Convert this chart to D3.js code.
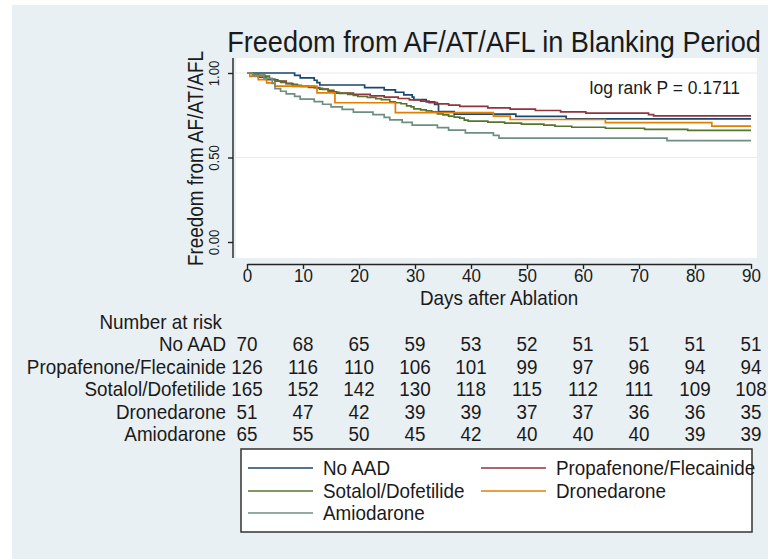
<!DOCTYPE html>
<html>
<head>
<meta charset="utf-8">
<script src="https://cdn.jsdelivr.net/npm/d3@7"></script>
<style>
  body { margin: 0; background: #fff; }
  text { font-family: "Liberation Sans", Arial, sans-serif; fill: #1a1a1a; }
</style>
</head>
<body>
<div id="chart"></div>
<script>
// KM curves: [day, survival]
const curveNoAAD = [[0,1],[8.5,0.986],[9.5,0.971],[12,0.957],[12.5,0.943],[13,0.929],[21,0.914],[24.5,0.900],[26.5,0.886],[28,0.871],[29.5,0.857],[29.8,0.843],[32,0.829],[33.5,0.814],[34.2,0.771],[37,0.757],[48,0.743],[57,0.729],[90,0.729]];
const curveProp = [[0,1],[1,0.984],[2,0.976],[3.5,0.960],[5.5,0.952],[7,0.937],[8.2,0.921],[12,0.913],[13,0.905],[14.5,0.897],[15.5,0.889],[16,0.881],[19,0.873],[22,0.865],[24.5,0.857],[27,0.849],[29,0.841],[31,0.833],[32.5,0.825],[34,0.817],[36,0.810],[38,0.802],[43,0.794],[47,0.786],[51.5,0.778],[56,0.770],[60.5,0.762],[71.7,0.754],[72.6,0.746],[90,0.746]];
const curveSotalol = [[0,1],[1,0.994],[2,0.988],[3.2,0.982],[4,0.964],[5,0.952],[6,0.945],[7,0.939],[8,0.933],[9,0.927],[9.7,0.921],[11,0.915],[12.5,0.909],[13.5,0.903],[14.5,0.891],[15.5,0.885],[16.5,0.879],[18,0.873],[19,0.867],[19.8,0.861],[21.5,0.855],[23,0.848],[24,0.842],[25.5,0.830],[26.5,0.824],[27.5,0.818],[28.5,0.806],[29.3,0.800],[29.8,0.788],[31,0.782],[32,0.776],[33,0.770],[34,0.758],[35,0.752],[36,0.745],[37,0.739],[38,0.733],[38.8,0.721],[39.5,0.715],[43,0.709],[46,0.703],[49,0.697],[53,0.691],[55,0.685],[58,0.679],[64,0.673],[71,0.667],[78.7,0.661],[90,0.661]];
const curveDron = [[0,1],[0.5,0.980],[2,0.961],[3.5,0.941],[5,0.922],[12.5,0.882],[15.7,0.824],[26.5,0.765],[44,0.745],[47,0.725],[64,0.706],[83,0.686],[90,0.686]];
const curveAmio = [[0,1],[1,0.985],[3,0.969],[4.5,0.938],[5,0.908],[6,0.892],[7,0.877],[8.5,0.862],[9.5,0.846],[12,0.831],[13.5,0.815],[15,0.800],[17,0.785],[19,0.769],[22.5,0.754],[24.5,0.738],[25.5,0.723],[27.7,0.708],[29.5,0.692],[34,0.677],[36,0.662],[39,0.646],[44,0.631],[45,0.615],[75,0.600],[90,0.600]];

const groups = ["No AAD", "Propafenone/Flecainide", "Sotalol/Dofetilide", "Dronedarone", "Amiodarone"];
const colors = ["#1a476f", "#90353b", "#55752f", "#e37e00", "#6e8e84"];
const curves = [curveNoAAD, curveProp, curveSotalol, curveDron, curveAmio];

const dayTicks = [0, 10, 20, 30, 40, 50, 60, 70, 80, 90];
const survTicks = [0, 0.5, 1];

// number at risk table
const riskNoAAD = [70, 68, 65, 59, 53, 52, 51, 51, 51, 51];
const riskProp = [126, 116, 110, 106, 101, 99, 97, 96, 94, 94];
const riskSotalol = [165, 152, 142, 130, 118, 115, 112, 111, 109, 108];
const riskDron = [51, 47, 42, 39, 39, 37, 37, 36, 36, 35];
const riskAmio = [65, 55, 50, 45, 42, 40, 40, 40, 39, 39];
const risks = [riskNoAAD, riskProp, riskSotalol, riskDron, riskAmio];

const width = 768, height = 559;
const sx = 0.92; // stata text looks a bit narrow

const svg = d3.select("#chart").append("svg")
    .attr("width", width)
    .attr("height", height);

function addText(parent, px, py, str, size, anchor) {
    return parent.append("text")
        .attr("transform", `translate(${px},${py}) scale(${sx},1)`)
        .attr("text-anchor", anchor || "start")
        .style("font-size", size + "px")
        .text(str);
}

// graph region background
svg.append("rect").attr("width", width).attr("height", height).attr("fill", "#fff");
svg.append("rect")
    .attr("x", 12).attr("y", 5)
    .attr("width", width - 12).attr("height", height - 5)
    .attr("fill", "#e9f0f3");

// plot region
svg.append("rect")
    .attr("x", 236).attr("y", 58)
    .attr("width", 521).attr("height", 200)
    .attr("fill", "#fff");

const x = d3.scaleLinear().domain([0, 90]).range([247, 751]);
const y = d3.scaleLinear().domain([0, 1]).range([242, 73]);

// grid lines
svg.append("g")
    .selectAll("line")
    .data([0.5, 1])
    .enter()
    .append("line")
    .attr("x1", 236).attr("x2", 757)
    .attr("y1", d => y(d)).attr("y2", d => y(d))
    .attr("stroke", "#e6eef1")
    .attr("stroke-width", 1.2);

// y axis
const yAxis = svg.append("g")
    .attr("transform", "translate(233,0)")
    .call(d3.axisLeft(y).tickValues(survTicks).tickSize(5).tickFormat(d3.format(".2f")));
yAxis.select(".domain").remove();
yAxis.append("line")
    .attr("y1", 58).attr("y2", 258)
    .attr("stroke", "#222").attr("stroke-width", 1.4);
yAxis.selectAll(".tick line").attr("stroke", "#222").attr("stroke-width", 1.4);
yAxis.selectAll(".tick text")
    .attr("transform", "rotate(-90) scale(0.88,1)")
    .attr("x", 0).attr("y", -14)
    .attr("dy", 0)
    .attr("text-anchor", "middle")
    .style("font-size", "15px")
    .style("font-family", "'Liberation Sans', Arial, sans-serif")
    .attr("fill", "#1a1a1a");

// x axis
const xAxis = svg.append("g")
    .attr("transform", "translate(0,264)")
    .call(d3.axisBottom(x).tickValues(dayTicks).tickSize(5).tickSizeOuter(0));
xAxis.select(".domain").attr("stroke", "#222").attr("stroke-width", 1.4);
xAxis.selectAll(".tick line").attr("stroke", "#222").attr("stroke-width", 1.4);
xAxis.selectAll(".tick text")
    .attr("y", 5)
    .attr("transform", `scale(${sx},1)`)
    .style("font-size", "18.5px")
    .style("font-family", "'Liberation Sans', Arial, sans-serif")
    .attr("fill", "#1a1a1a");

// axis titles
addText(svg, x(45), 305, "Days after Ablation", 20.5, "middle");

svg.append("text")
    .attr("transform", `translate(203,${y(0.5) + 1}) rotate(-90) scale(0.88,1)`)
    .attr("text-anchor", "middle")
    .style("font-size", "21.5px")
    .text("Freedom from AF/AT/AFL");

// title
addText(svg, 494, 52, "Freedom from AF/AT/AFL in Blanking Period", 29.5, "middle")
    .attr("fill", "#1c2430");

addText(svg, 740, 94, "log rank P = 0.1711", 19, "end");

// KM step lines
const line = d3.line()
    .x(d => x(d[0]))
    .y(d => y(d[1]))
    .curve(d3.curveStepAfter);

svg.append("g")
    .selectAll("path")
    .data(curves)
    .enter()
    .append("path")
    .attr("d", line)
    .attr("fill", "none")
    .attr("stroke", (d, i) => colors[i])
    .attr("stroke-width", 1.7);

// number at risk
addText(svg, 222, 329, "Number at risk", 20.5, "end");

const rowY = d3.scaleLinear().domain([0, 4]).range([351, 441]);

const rows = svg.append("g")
    .selectAll("g")
    .data(risks)
    .enter()
    .append("g")
    .attr("transform", (d, i) => `translate(0,${rowY(i)})`);

rows.append("text")
    .attr("transform", `translate(226,0) scale(${sx},1)`)
    .attr("text-anchor", "end")
    .style("font-size", "20.5px")
    .text((d, i) => groups[i]);

rows.selectAll(".n")
    .data(d => d)
    .enter()
    .append("text")
    .attr("class", "n")
    .attr("transform", (d, i) => `translate(${x(dayTicks[i])},0) scale(${sx},1)`)
    .attr("text-anchor", "middle")
    .style("font-size", "20.5px")
    .text(d => d);

// legend
const legend = svg.append("g");
legend.append("rect")
    .attr("x", 241).attr("y", 449)
    .attr("width", 511).attr("height", 83)
    .attr("fill", "#fff")
    .attr("stroke", "#333")
    .attr("stroke-width", 1.5);

const legendCols = [248, 481];
const legendRows = [468, 491, 513];

const items = legend.selectAll(".item")
    .data(groups)
    .enter()
    .append("g")
    .attr("class", "item")
    .attr("transform", (d, i) => `translate(${legendCols[i % 2]},${legendRows[Math.floor(i / 2)]})`);

items.append("line")
    .attr("x1", 0).attr("x2", 65)
    .attr("stroke", (d, i) => colors[i])
    .attr("stroke-width", 1.6);

items.append("text")
    .attr("transform", `translate(75,7) scale(${sx},1)`)
    .style("font-size", "20.5px")
    .text(d => d);
</script>
</body>
</html>
